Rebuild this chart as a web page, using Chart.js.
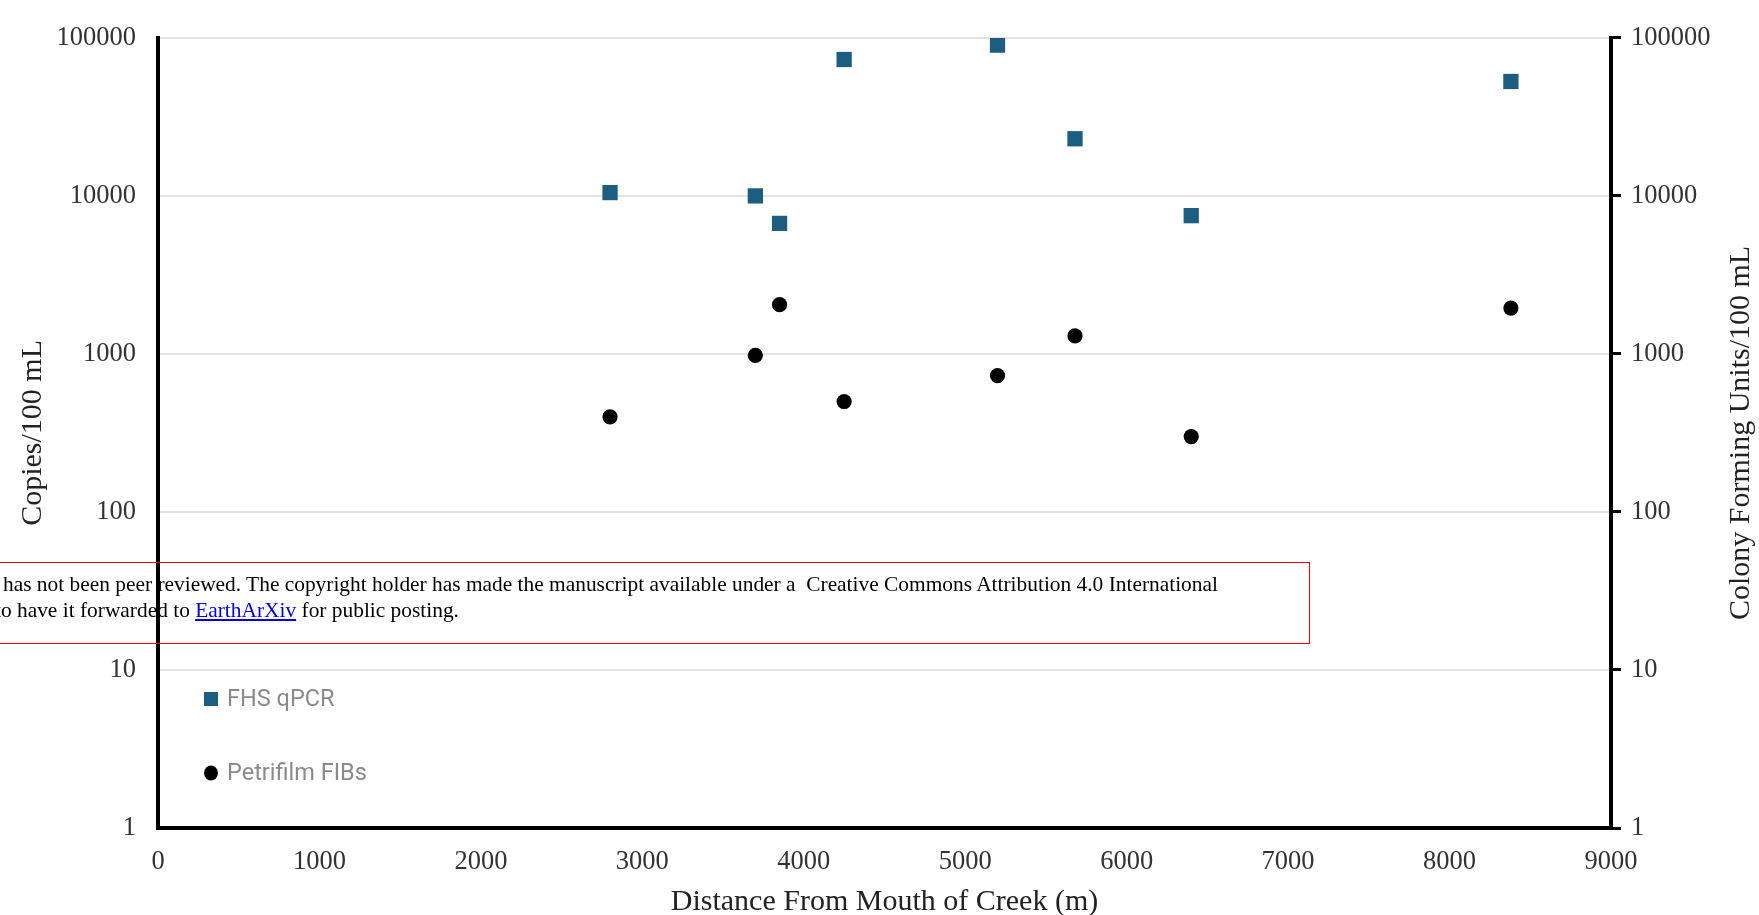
<!DOCTYPE html>
<html>
<head>
<meta charset="utf-8">
<script src="https://cdn.jsdelivr.net/npm/chart.js@4.4.0/dist/chart.umd.min.js"></script>
<style>
  html, body { margin: 0; padding: 0; background: #fff; overflow: hidden; }
  #wrap { position: relative; width: 1759px; height: 915px; overflow: hidden; }
  canvas { position: absolute; left: 0; top: 0; }
  #notice {
    position: absolute; left: -20px; top: 562px; width: 1330px; height: 82px;
    border: 1px solid #ff0000; box-sizing: border-box;
    font-family: "Liberation Serif", "Times New Roman", serif; font-size: 21.4px; color: #000;
    pointer-events: none;
  }
  #notice .l1 { position: absolute; left: 22px; top: 9px; white-space: nowrap; }
  #notice .l2 { position: absolute; left: 14px; top: 35px; white-space: nowrap; }
  #notice a { color: #0000ee; text-decoration: underline; }
</style>
</head>
<body>
<div id="wrap">
  <canvas id="c" width="1759" height="915"></canvas>
  <div id="notice">
    <div class="l1">has not been peer reviewed. The copyright holder has made the manuscript available under a&nbsp; Creative Commons Attribution 4.0 International</div>
    <div class="l2">to have it forwarded to <a href="#">EarthArXiv</a> for public posting.</div>
  </div>
</div>
<script>
// ---- data ----
const distances = [2800, 3700, 3850, 4250, 5200, 5680, 6400, 8380];
const fhsQpcr   = [10500, 10000, 6700, 73000, 90000, 23000, 7500, 53000];
const petrifilm = [400, 980, 2050, 500, 730, 1300, 300, 1950];
const seriesNames = ['FHS qPCR', 'Petrifilm FIBs'];
const yTickValues = [1, 10, 100, 1000, 10000, 100000];
const xTickValues = [0, 1000, 2000, 3000, 4000, 5000, 6000, 7000, 8000, 9000];
const xTitle = 'Distance From Mouth of Creek (m)';
const yLeftTitle = 'Copies/100 mL';
const yRightTitle = 'Colony Forming Units/100 mL';

const toPoints = (xs, ys) => xs.map((x, i) => ({ x: x, y: ys[i] }));

const serif = '"Liberation Serif", "Times New Roman", serif';
const tickFont = { family: serif, size: 26.5 };
const tickColor = '#333';
const titleFont = { family: serif, size: 30 };
const titleColor = '#222';

const legendPlugin = {
  id: 'customLegend',
  afterDraw(chart) {
    const ctx = chart.ctx;
    const items = [
      { y: 699, ds: chart.data.datasets[0] },
      { y: 773, ds: chart.data.datasets[1] }
    ];
    ctx.save();
    items.forEach(it => {
      const cx = 211;
      ctx.fillStyle = it.ds.backgroundColor;
      if (it.ds.pointStyle === 'rect') {
        ctx.fillRect(cx - 7, it.y - 7, 14, 14);
      } else {
        ctx.beginPath();
        ctx.ellipse(cx, it.y, 7, 7.5, 0, 0, Math.PI * 2);
        ctx.fill();
      }
      ctx.fillStyle = '#8a8a8a';
      ctx.font = '23.5px Roboto, "Noto Sans", sans-serif';
      ctx.textAlign = 'left';
      ctx.textBaseline = 'middle';
      ctx.fillText(it.ds.label, 227, it.y + 1);
    });
    ctx.restore();
  }
};

const rightTitlePlugin = {
  id: 'rightTitle',
  afterDraw(chart) {
    const ctx = chart.ctx;
    const ca = chart.chartArea;
    ctx.save();
    ctx.translate(1741, (ca.top + ca.bottom) / 2);
    ctx.rotate(-Math.PI / 2);
    ctx.font = titleFont.size + 'px ' + serif;
    ctx.fillStyle = titleColor;
    ctx.textAlign = 'center';
    ctx.textBaseline = 'middle';
    ctx.fillText(yRightTitle, 0, 0);
    ctx.restore();
  }
};

new Chart(document.getElementById('c'), {
  type: 'scatter',
  data: {
    datasets: [
      {
        label: seriesNames[0],
        data: toPoints(distances, fhsQpcr),
        yAxisID: 'y',
        pointStyle: 'rect',
        pointRadius: 10.8,
        pointHoverRadius: 10.8,
        backgroundColor: '#1b5e80',
        borderColor: '#1b5e80',
        borderWidth: 0
      },
      {
        label: seriesNames[1],
        data: toPoints(distances, petrifilm),
        yAxisID: 'y2',
        pointStyle: 'circle',
        pointRadius: 7.6,
        pointHoverRadius: 7.6,
        backgroundColor: '#000000',
        borderColor: '#000000',
        borderWidth: 0
      }
    ]
  },
  options: {
    responsive: false,
    animation: false,
    layout: { padding: { top: 33, left: 0, right: 0, bottom: 0 } },
    plugins: { legend: { display: false }, tooltip: { enabled: false } },
    scales: {
      x: {
        type: 'linear',
        min: 0, max: 9000,
        afterBuildTicks: s => { s.ticks = xTickValues.map(v => ({ value: v })); },
        afterFit: s => { s.height = 87; },
        grid: { display: false, drawTicks: false },
        border: { display: true, color: '#000', width: 4 },
        ticks: { font: tickFont, color: tickColor, padding: 18, maxRotation: 0, autoSkip: false, callback: v => String(v) },
        title: { display: true, text: xTitle, font: titleFont, color: titleColor, padding: { top: 0, bottom: -5 } }
      },
      y: {
        type: 'logarithmic',
        position: 'left',
        min: 1, max: 100000,
        afterBuildTicks: s => { s.ticks = yTickValues.map(v => ({ value: v })); },
        afterFit: s => { s.width = 158; },
        grid: { drawOnChartArea: true, drawTicks: false, color: '#e4e4e4', lineWidth: 2 },
        border: { display: true, color: '#000', width: 4 },
        ticks: { font: tickFont, color: tickColor, padding: 22, autoSkip: false, callback: v => String(v) },
        title: { display: true, text: yLeftTitle, font: titleFont, color: titleColor, padding: { top: 15, bottom: 0 } }
      },
      y2: {
        type: 'logarithmic',
        position: 'right',
        min: 1, max: 100000,
        afterBuildTicks: s => { s.ticks = yTickValues.map(v => ({ value: v })); },
        afterFit: s => { s.width = 148; },
        grid: { drawOnChartArea: false, drawTicks: true, tickLength: 10, color: '#000', lineWidth: 3 },
        border: { display: true, color: '#000', width: 4 },
        ticks: { font: tickFont, color: tickColor, padding: 10, autoSkip: false, callback: v => String(v) }
      }
    }
  },
  plugins: [legendPlugin, rightTitlePlugin]
});
</script>
</body>
</html>
